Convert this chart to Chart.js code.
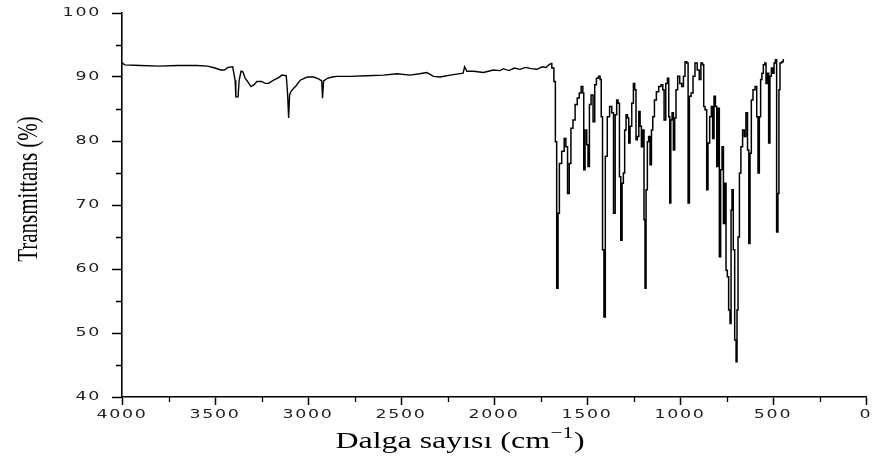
<!DOCTYPE html>
<html>
<head>
<meta charset="utf-8">
<script src="https://cdn.jsdelivr.net/npm/chart.js@4.4.1/dist/chart.umd.min.js"></script>
<style>
  html, body { margin: 0; padding: 0; background: #ffffff; }
  canvas { display: block; }
</style>
</head>
<body>
<canvas id="ir" width="875" height="466"></canvas>
<script>
// IR spectrum: wavenumber (cm-1) and transmittance (%)
const wavenumbers = [
  4000, 3985, 3900, 3800, 3700, 3600, 3540, 3500, 3470, 3450, 3430, 3405, 3392, 3388, 3376, 3370,
  3360, 3350, 3338, 3325, 3307, 3290, 3275, 3250, 3230, 3212, 3185, 3158, 3140, 3117, 3110, 3104,
  3099, 3090, 3078, 3065, 3042, 3020, 3003, 2970, 2943, 2926, 2922, 2916, 2895, 2870, 2845, 2773,
  2684, 2594, 2522, 2451, 2400, 2361, 2325, 2290, 2236, 2166, 2158, 2146, 2110, 2057, 2003, 1967,
  1950, 1920, 1890, 1860, 1830, 1800, 1770, 1740, 1720, 1705, 1695, 1683, 1673, 1667, 1659, 1652,
  1645, 1627, 1618, 1609, 1600, 1591, 1582, 1569, 1559, 1546, 1537, 1526, 1519, 1516, 1505, 1498,
  1491, 1483, 1473, 1462, 1455, 1444, 1433, 1426, 1421, 1412, 1406, 1397, 1385, 1372, 1362, 1353,
  1344, 1337, 1329, 1322, 1315, 1308, 1301, 1294, 1286, 1279, 1272, 1265, 1254, 1247, 1240, 1233,
  1225, 1218, 1211, 1204, 1197, 1190, 1186, 1179, 1172, 1165, 1157, 1150, 1143, 1132, 1122, 1107,
  1096, 1089, 1082, 1071, 1064, 1057, 1053, 1046, 1039, 1032, 1025, 1018, 1007, 996, 985, 978,
  968, 960, 953, 946, 935, 925, 914, 901, 892, 883, 874, 871, 860, 853, 846, 835,
  828, 821, 813, 806, 799, 792, 785, 778, 770, 763, 756, 749, 742, 735, 727, 724,
  717, 710, 702, 695, 692, 684, 677, 668, 659, 650, 641, 633, 627, 620, 613, 602,
  591, 584, 577, 570, 563, 556, 548, 541, 534, 527, 520, 513, 505, 498, 491, 484,
  477, 470, 466, 459, 448, 441
];
const transmittance = [
  92.2, 91.9, 91.8, 91.7, 91.8, 91.8, 91.7, 91.4, 91.1, 91.1, 91.5, 91.6, 89.5, 86.9, 86.9, 89.5,
  90.9, 90.8, 89.8, 89.3, 88.5, 88.8, 89.3, 89.3, 89.0, 89.0, 89.5, 89.9, 90.3, 90.2, 87.5, 83.6,
  87.2, 87.8, 88.2, 88.6, 89.5, 89.8, 90.0, 90.0, 89.7, 89.4, 86.7, 89.4, 89.8, 90.0, 90.1, 90.1,
  90.2, 90.3, 90.5, 90.3, 90.5, 90.7, 90.1, 90.0, 90.3, 90.6, 91.6, 90.9, 90.9, 90.7, 91.1, 91.0,
  91.3, 91.0, 91.4, 91.2, 91.5, 91.3, 91.2, 91.6, 91.5, 91.9, 92.1, 91.4, 89.3, 79.9, 57.0, 68.7,
  76.5, 78.4, 80.4, 79.1, 71.8, 76.5, 82.0, 83.3, 85.7, 86.7, 87.5, 88.5, 87.5, 75.5, 81.7, 79.4,
  76.0, 85.7, 87.2, 83.0, 88.8, 89.8, 90.1, 89.6, 83.8, 63.0, 52.5, 77.6, 83.8, 85.4, 84.4, 68.7,
  84.1, 86.4, 85.9, 74.4, 64.5, 73.4, 75.0, 81.7, 84.1, 83.6, 79.7, 82.3, 85.9, 89.0, 88.0, 80.2,
  80.7, 84.6, 82.3, 79.1, 81.7, 67.7, 57.0, 72.4, 79.9, 80.7, 76.3, 81.7, 83.8, 86.4, 87.7, 88.5,
  88.8, 88.0, 83.3, 89.0, 89.8, 83.8, 70.3, 83.3, 84.4, 78.6, 83.6, 88.0, 90.1, 89.0, 88.5, 90.1,
  92.4, 92.2, 70.3, 87.0, 87.5, 90.1, 92.2, 91.1, 89.6, 92.2, 91.9, 85.4, 84.9, 72.4, 79.7, 83.8,
  85.4, 80.4, 87.0, 85.4, 76.0, 85.1, 61.9, 75.5, 79.1, 67.1, 73.4, 59.8, 58.8, 53.6, 51.5, 69.2,
  72.4, 63.0, 48.9, 45.5, 53.6, 65.0, 75.0, 79.1, 81.7, 80.7, 84.4, 78.6, 64.0, 78.1, 86.4, 88.0,
  88.5, 83.8, 75.0, 83.8, 89.6, 90.6, 91.9, 92.2, 89.0, 90.6, 79.7, 90.1, 91.4, 90.6, 92.2, 92.7,
  65.8, 71.8, 88.0, 92.2, 92.4, 92.7
];
// fingerprint/carbonyl region starts here (drawn as a stepped trace)
const denseFrom = 1695;

// Axis ticks and titles
const xTickValues = [4000, 3500, 3000, 2500, 2000, 1500, 1000, 500, 0];
const xMinorTicks = [3750, 3250, 2750, 2250, 1750, 1250, 750, 250];
const yTickValues = [40, 50, 60, 70, 80, 90, 100];
const yMinorTicks = [45, 55, 65, 75, 85, 95];
const xTitleText = 'Dalga sayısı (cm';
const xTitleSup = '\u22121';
const xTitleClose = ')';
const yTitleText = 'Transmittans (%)';

// Draws minor ticks, the widened tick labels and the serif axis titles
const axisDecor = {
  id: 'axisDecor',
  afterDraw(chart) {
    const ctx = chart.ctx;
    const xs = chart.scales.x;
    const ys = chart.scales.y;
    const area = chart.chartArea;

    // minor ticks
    ctx.save();
    ctx.strokeStyle = '#000';
    ctx.lineWidth = 1.3;
    ctx.beginPath();
    xMinorTicks.forEach(v => {
      const px = Math.round(xs.getPixelForValue(v)) + 0.5;
      ctx.moveTo(px, area.bottom);
      ctx.lineTo(px, area.bottom + 5);
    });
    yMinorTicks.forEach(v => {
      const py = Math.round(ys.getPixelForValue(v)) + 0.5;
      ctx.moveTo(area.left, py);
      ctx.lineTo(area.left - 6, py);
    });
    ctx.stroke();
    ctx.restore();

    // tick labels (wide, spaced digits)
    const sx = 1.45;
    ctx.save();
    ctx.fillStyle = '#222';
    ctx.font = '12px "DejaVu Sans"';
    ctx.letterSpacing = '1.2px';
    ctx.textAlign = 'left';
    ctx.textBaseline = 'middle';
    xTickValues.forEach(v => {
      const s = String(v);
      const w = ctx.measureText(s).width * sx;
      const px = xs.getPixelForValue(v);
      ctx.save();
      ctx.translate(px - w / 2, area.bottom + 18);
      ctx.scale(sx, 1);
      ctx.fillText(s, 0, 0);
      ctx.restore();
    });
    yTickValues.forEach(v => {
      const s = String(v);
      const w = ctx.measureText(s).width * sx;
      const py = ys.getPixelForValue(v);
      ctx.save();
      ctx.translate(area.left - 21 - w, py);
      ctx.scale(sx, 1);
      ctx.fillText(s, 0, 0);
      ctx.restore();
    });
    ctx.restore();

    // x axis title with superscript
    ctx.save();
    ctx.fillStyle = '#000';
    ctx.textBaseline = 'alphabetic';
    ctx.textAlign = 'left';
    const tx = 1.33;
    const mainFont = '24px "Liberation Serif"';
    const supFont = '16px "Liberation Serif"';
    ctx.font = mainFont;
    const w1 = ctx.measureText(xTitleText).width;
    const w3 = ctx.measureText(xTitleClose).width;
    ctx.font = supFont;
    const w2 = ctx.measureText(xTitleSup).width;
    const total = (w1 + w2 + w3 + 1) * tx;
    const cx = 460;
    ctx.translate(cx - total / 2, 448);
    ctx.scale(tx, 1);
    ctx.font = mainFont;
    ctx.fillText(xTitleText, 0, 0);
    ctx.font = supFont;
    ctx.fillText(xTitleSup, w1 + 0.5, -10);
    ctx.font = mainFont;
    ctx.fillText(xTitleClose, w1 + w2 + 1, 0);
    ctx.restore();

    // y axis title, rotated
    ctx.save();
    ctx.fillStyle = '#000';
    ctx.font = '21px "Liberation Serif"';
    ctx.textAlign = 'center';
    ctx.textBaseline = 'alphabetic';
    ctx.translate(37, (area.top + area.bottom) / 2 - 16);
    ctx.rotate(-Math.PI / 2);
    ctx.scale(1, 1.4);
    ctx.fillText(yTitleText, 0, 0);
    ctx.restore();
  }
};

const points = wavenumbers.map((w, i) => ({ x: w, y: transmittance[i] }));
const splitAt = wavenumbers.indexOf(denseFrom);
const broadPart = points.slice(0, splitAt + 1);
const densePart = points.slice(splitAt);

new Chart(document.getElementById('ir').getContext('2d'), {
  type: 'line',
  data: {
    datasets: [
      {
        data: broadPart,
        borderColor: '#000',
        borderWidth: 1.4,
        pointRadius: 0,
        tension: 0,
        fill: false
      },
      {
        data: densePart,
        borderColor: '#000',
        borderWidth: 1.5,
        pointRadius: 0,
        stepped: 'middle',
        fill: false
      }
    ]
  },
  options: {
    responsive: false,
    animation: false,
    devicePixelRatio: 1,
    layout: { padding: { left: 0, right: 9, top: 13, bottom: 0 } },
    plugins: { legend: { display: false }, tooltip: { enabled: false } },
    scales: {
      x: {
        type: 'linear',
        reverse: true,
        min: 0,
        max: 4000,
        ticks: { display: false, stepSize: 500 },
        grid: { drawOnChartArea: false, drawTicks: true, tickLength: 8, tickWidth: 1.5, tickColor: '#000' },
        border: { display: true, color: '#000', width: 1.6 },
        afterFit(s) { s.height = 69; }
      },
      y: {
        type: 'linear',
        min: 40,
        max: 100,
        ticks: { display: false, stepSize: 10 },
        grid: { drawOnChartArea: false, drawTicks: true, tickLength: 10, tickWidth: 1.5, tickColor: '#000' },
        border: { display: true, color: '#000', width: 1.6 },
        afterFit(s) { s.width = 122; }
      }
    }
  },
  plugins: [axisDecor]
});
</script>
</body>
</html>
